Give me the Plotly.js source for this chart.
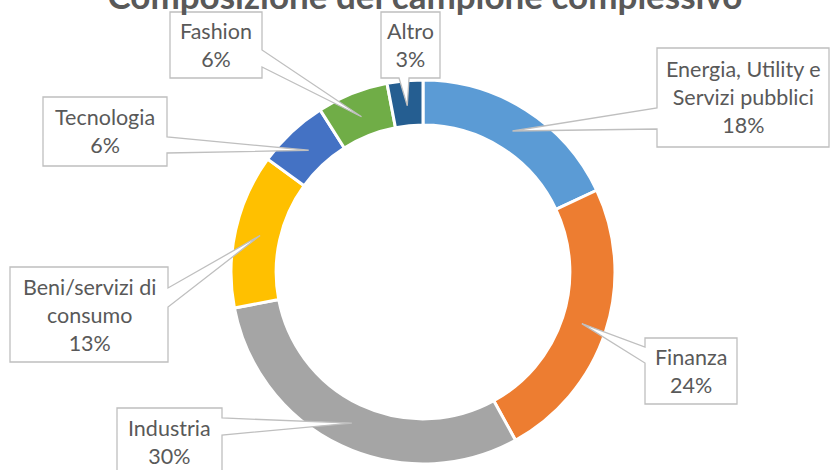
<!DOCTYPE html>
<html>
<head>
<meta charset="utf-8">
<script src="https://cdn.plot.ly/plotly-3.0.1.min.js"></script>
<style>html,body{margin:0;padding:0;background:#fff;}#chart{width:831px;height:470px;}</style>
</head>
<body>
<div id="chart"></div>
<script>
// ---- data ----
const categories = ['Energia, Utility e Servizi pubblici', 'Finanza', 'Industria', 'Beni/servizi di consumo', 'Tecnologia', 'Fashion', 'Altro'];
const labelLines = ['Energia, Utility e<br>Servizi pubblici', 'Finanza', 'Industria', 'Beni/servizi di<br>consumo', 'Tecnologia', 'Fashion', 'Altro'];
const values = [18, 24, 30, 13, 6, 6, 3];
const colors = ['#5B9BD5', '#ED7D31', '#A5A5A5', '#FFC000', '#4472C4', '#70AD47', '#255E91'];
const chartTitle = 'Composizione del campione complessivo';

// ---- layout constants (pixels) ----
const W = 831, H = 470;
const CX = 423, CY = 272, R = 192, HOLE = 0.765;
const TIP_R = 167;
// callout boxes: x0,y0,x1,y1, side of pointer, pointer base (a,b)
const boxes = [
  {x0: 657, y0: 48, x1: 829, y1: 147, side: 'left', a: 108, b: 129},
  {x0: 645, y0: 338, x1: 737, y1: 404, side: 'left', a: 347, b: 363},
  {x0: 117, y0: 408, x1: 222, y1: 476, side: 'right', a: 418, b: 435},
  {x0: 10, y0: 267, x1: 168, y1: 362, side: 'right', a: 288, b: 307},
  {x0: 43, y0: 97, x1: 167, y1: 166, side: 'right', a: 137, b: 153},
  {x0: 170, y0: 12, x1: 262, y1: 78, side: 'right', a: 50, b: 67},
  {x0: 381, y0: 12, x1: 440, y1: 78, side: 'bottom', a: 399, b: 409}
];

const px = x => x / W;
const py = y => 1 - y / H;

const total = values.reduce((s, v) => s + v, 0);
let cum = 0;
const tips = values.map(v => {
  const frac = (cum + v / 2) / total;
  cum += v;
  const ang = frac * 2 * Math.PI;
  return [CX + TIP_R * Math.sin(ang), CY - TIP_R * Math.cos(ang)];
});

function pathFor(b, tip) {
  const pts = [];
  pts.push([b.x0, b.y0]);
  pts.push([b.x1, b.y0]);
  if (b.side === 'right') { pts.push([b.x1, b.a]); pts.push(tip); pts.push([b.x1, b.b]); }
  pts.push([b.x1, b.y1]);
  if (b.side === 'bottom') { pts.push([b.b, b.y1]); pts.push(tip); pts.push([b.a, b.y1]); }
  pts.push([b.x0, b.y1]);
  if (b.side === 'left') { pts.push([b.x0, b.b]); pts.push(tip); pts.push([b.x0, b.a]); }
  return 'M' + pts.map(p => px(p[0]).toFixed(5) + ',' + py(p[1]).toFixed(5)).join(' L') + ' Z';
}

const shapes = boxes.map((b, i) => ({
  type: 'path', xref: 'paper', yref: 'paper', layer: 'above',
  path: pathFor(b, tips[i]),
  fillcolor: '#FFFFFF', line: {color: '#BFBFBF', width: 1.3}
}));

const annotations = boxes.map((b, i) => ({
  xref: 'paper', yref: 'paper', showarrow: false,
  x: px((b.x0 + b.x1) / 2), y: py((b.y0 + b.y1) / 2),
  xanchor: 'center', yanchor: 'middle', align: 'center',
  text: labelLines[i] + '<br>' + Math.round(values[i] / total * 100) + '%',
  font: {family: 'Lato, "Open Sans", sans-serif', size: 21.5, color: '#595959'}
}));

const trace = {
  type: 'pie',
  labels: categories,
  values: values,
  sort: false,
  direction: 'clockwise',
  rotation: 0,
  hole: HOLE,
  textinfo: 'none',
  hoverinfo: 'label+percent',
  marker: {colors: colors, line: {color: '#FFFFFF', width: 3}},
  domain: {x: [px(CX - R), px(CX + R)], y: [py(CY + R), py(CY - R)]},
  showlegend: false
};

const layout = {
  width: W, height: H,
  margin: {l: 0, r: 0, t: 0, b: 0},
  paper_bgcolor: '#FFFFFF',
  showlegend: false,
  title: {
    text: '<b>' + chartTitle + '</b>',
    x: px(425), xanchor: 'center', xref: 'paper',
    y: py(9), yanchor: 'bottom', yref: 'paper',
    font: {family: 'Lato, "Open Sans", sans-serif', size: 35, color: '#595959'}
  },
  shapes: shapes,
  annotations: annotations
};

Plotly.newPlot('chart', [trace], layout, {displayModeBar: false, staticPlot: true});
</script>
</body>
</html>
